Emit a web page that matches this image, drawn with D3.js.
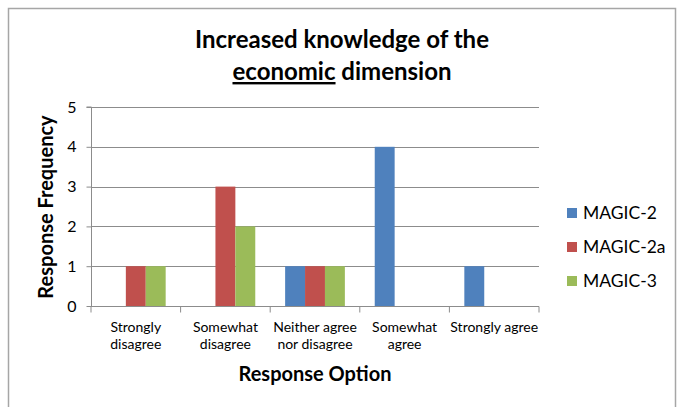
<!DOCTYPE html>
<html><head><meta charset="utf-8">
<script src="https://cdn.jsdelivr.net/npm/d3@7"></script>
<style>body{margin:0;background:#fff}svg{display:block}</style>
</head><body>
<svg id="c" width="684" height="407"></svg>
<script>
const categories = [["Strongly","disagree"],["Somewhat","disagree"],["Neither agree","nor disagree"],["Somewhat","agree"],["Strongly agree"]];
const seriesNames = ["MAGIC-2","MAGIC-2a","MAGIC-3"];
const magic2  = [0,0,1,4,1];
const magic2a = [1,3,1,0,0];
const magic3  = [1,2,1,0,0];
const yTicks = [0,1,2,3,4,5];
const colors = ["#4F81BD","#C0504D","#9BBB59"];

const svg = d3.select("#c");
const font = "Lato, 'Open Sans', sans-serif";
svg.append("rect").attr("x",8.5).attr("y",8.5).attr("width",667).attr("height",420)
  .attr("fill","#fff").attr("stroke","#a6a6a6").attr("stroke-width",1.5);

const L=91, R=539, T=107, B=306;
const x = d3.scaleBand().domain(d3.range(categories.length)).range([L,R]);
const xs = d3.scaleBand().domain(d3.range(3)).range([0,x.bandwidth()]).paddingOuter(0.75).paddingInner(0);
const y = d3.scaleLinear().domain([0,5]).range([B,T]);

// gridlines
svg.append("g").selectAll("line").data(yTicks.slice(1)).join("line")
  .attr("x1",L).attr("x2",R).attr("y1",d=>Math.round(y(d))+0.5).attr("y2",d=>Math.round(y(d))+0.5)
  .attr("stroke","#8c8c8c").attr("stroke-width",1);

const data = [magic2, magic2a, magic3];
data.forEach((vals,si)=>{
  svg.append("g").selectAll("rect").data(vals).join("rect")
    .attr("x",(d,i)=>x(i)+xs(si)).attr("width",xs.bandwidth())
    .attr("y",d=>y(d)).attr("height",d=>B-y(d)).attr("fill",colors[si]);
});

// y axis
const ya = svg.append("g").attr("transform",`translate(${L+0.5},0)`)
  .call(d3.axisLeft(y).tickValues(yTicks).tickSize(5).tickPadding(8).tickFormat(d3.format("d")));
ya.select(".domain").attr("stroke","#8c8c8c").attr("d",`M-5,${T}H0V${B}`);
ya.selectAll(".tick line").attr("stroke","#8c8c8c");
ya.selectAll("text").attr("font-family",font).attr("font-size",16).attr("fill","#000").attr("dx",-2);

// x axis
const xa = svg.append("g").attr("transform",`translate(0,${B+0.5})`);
xa.append("line").attr("x1",L).attr("x2",R).attr("stroke","#8c8c8c");
xa.selectAll("line.t").data(d3.range(categories.length+1)).join("line").attr("class","t")
  .attr("x1",i=>L+i*x.bandwidth()).attr("x2",i=>L+i*x.bandwidth()).attr("y1",0).attr("y2",6).attr("stroke","#8c8c8c");
const lab = xa.selectAll("text").data(categories).join("text")
  .attr("x",(d,i)=>x(i)+x.bandwidth()/2).attr("y",25)
  .attr("text-anchor","middle").attr("font-family",font).attr("font-size",14).attr("fill","#000");
lab.each(function(d){
  const t=d3.select(this);
  d.forEach((s,k)=>t.append("tspan").attr("x",t.attr("x")).attr("dy",k?17.5:0).text(s));
});

// titles
const title = svg.append("text").attr("text-anchor","middle").attr("font-family",font)
  .attr("font-weight","bold").attr("font-size",24).attr("fill","#000");
title.append("tspan").attr("x",342).attr("y",48).text("Increased knowledge of the");
const t2 = svg.append("text").attr("text-anchor","middle").attr("font-family",font)
  .attr("font-weight","bold").attr("font-size",24).attr("fill","#000").attr("x",342).attr("y",80);
t2.append("tspan").attr("text-decoration","underline").text("economic");
t2.append("tspan").text(" dimension");

svg.append("text").attr("transform","translate(53,207) rotate(-90)").attr("text-anchor","middle")
  .attr("font-family",font).attr("font-weight","bold").attr("font-size",20).text("Response Frequency");
svg.append("text").attr("x",315).attr("y",381).attr("text-anchor","middle")
  .attr("font-family",font).attr("font-weight","bold").attr("font-size",20).text("Response Option");

// legend
const lg = svg.append("g").selectAll("g").data(seriesNames).join("g")
  .attr("transform",(d,i)=>`translate(567,${213+i*34})`);
lg.append("rect").attr("x",0).attr("y",-5).attr("width",10).attr("height",10).attr("fill",(d,i)=>colors[i]);
lg.append("text").attr("x",16).attr("y",6).attr("font-family",font).attr("font-size",17.5).attr("fill","#000").text(d=>d);
</script>
</body></html>
